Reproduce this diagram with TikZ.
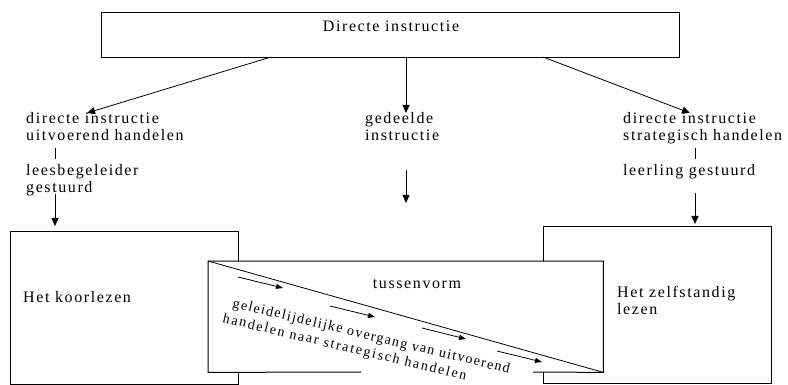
\documentclass[tikz,border=0pt]{standalone}
\usepackage{fontspec}
\setmainfont{Liberation Serif}[LetterSpace=10]
\usetikzlibrary{arrows.meta}
\tikzset{
  lbl/.style={font=\fontsize{16}{17}\selectfont, inner sep=0pt, align=left},
  boxn/.style={draw, line width=1pt, fill=white, inner sep=0pt, anchor=north west},
  arr/.style={line width=0.8pt, -{Triangle[length=8pt,width=7pt]}},
  tickline/.style={line width=0.9pt},
  smallarr/.style={line width=0.8pt, -{Triangle[length=7pt,width=5pt]}},
  diag/.style={line width=0.8pt},
  edge/.style={line width=1pt},
  rot/.style={font=\fontsize{14}{16}\selectfont, inner sep=0pt, rotate=-13.5, anchor=base west},
}
\begin{document}
\begin{tikzpicture}[x=1pt,y=-1pt]
\useasboundingbox (0,0) rectangle (788,385);
\clip (0,0) rectangle (788,385);
% top box
\node[boxn, minimum width=578pt, minimum height=45pt] (top) at (101,12) {};
\node[lbl, anchor=base] (toptext) at (391,32) {Directe instructie};
% texts (base = baseline of last line)
\node[lbl, anchor=base west] (l1) at (26,141) {directe instructie\\uitvoerend handelen};
\node[lbl, anchor=base west] (l2) at (26,193) {leesbegeleider\\gestuurd};
\node[lbl, anchor=base west] (m1) at (365,141) {gedeelde\\instructie};
\node[lbl, anchor=base west] (r1) at (623,141) {directe instructie\\strategisch handelen};
\node[lbl, anchor=base west] (r2) at (623,176) {leerling gestuurd};
% coordinates
\coordinate (tA) at (271,57);
\coordinate (tB) at (406,57);
\coordinate (tC) at (543,57);
\coordinate (hA) at (87,113);
\coordinate (hB) at (406,113);
\coordinate (hC) at (690,113);
\coordinate (lk1) at (55,148);
\coordinate (lk2) at (55,159);
\coordinate (rk1) at (695,148);
\coordinate (rk2) at (695,159);
\coordinate (ls) at (55,194);
\coordinate (le) at (55,226);
\coordinate (ms) at (406,170);
\coordinate (me) at (406,203);
\coordinate (rs) at (695,193);
\coordinate (re) at (695,224);
\draw[arr] (tA) -- (hA);
\draw[arr] (tB) -- (hB);
\draw[arr] (tC) -- (hC);
\draw[tickline] (lk1) -- (lk2);
\draw[tickline] (rk1) -- (rk2);
\draw[arr] (ls) -- (le);
\draw[arr] (ms) -- (me);
\draw[arr] (rs) -- (re);
% lower boxes
\node[boxn, minimum width=228pt, minimum height=153pt] (kb) at (10,231) {};
\node[boxn, minimum width=228pt, minimum height=157pt] (zb) at (543,226) {};
\node[fill=white, inner sep=0pt, anchor=north west, minimum width=395pt, minimum height=111pt] (tb) at (208,261) {};
\coordinate (g1) at (361,372);
\coordinate (g2) at (533,372);
\draw[edge] (g1) -- (tb.south west) -- (tb.north west) -- (tb.north east) -- (tb.south east) -- (g2);
\draw[diag] (tb.north west) -- (tb.south east);
% small arrows
\coordinate (a1s) at (238,277); \coordinate (a1e) at (283,288);
\coordinate (a2s) at (330,306); \coordinate (a2e) at (375,317);
\coordinate (a3s) at (422,328); \coordinate (a3e) at (466,339);
\coordinate (a4s) at (497,351); \coordinate (a4e) at (542,362);
\draw[smallarr] (a1s) -- (a1e);
\draw[smallarr] (a2s) -- (a2e);
\draw[smallarr] (a3s) -- (a3e);
\draw[smallarr] (a4s) -- (a4e);
% rotated text
\node[rot] (rt1) at (232,307) {geleidelijdelijke overgang van uitvoerend};
\node[rot] (rt2) at (222,322) {\addfontfeature{LetterSpace=13}handelen naar strategisch handelen};
% box texts
\node[lbl, anchor=base] (tv) at (417,288) {tussenvorm};
\node[lbl, anchor=base west] (hk) at (23,302) {Het koorlezen};
\node[lbl, anchor=base west] (hz) at (617,314) {Het zelfstandig\\lezen};
\end{tikzpicture}
\end{document}
